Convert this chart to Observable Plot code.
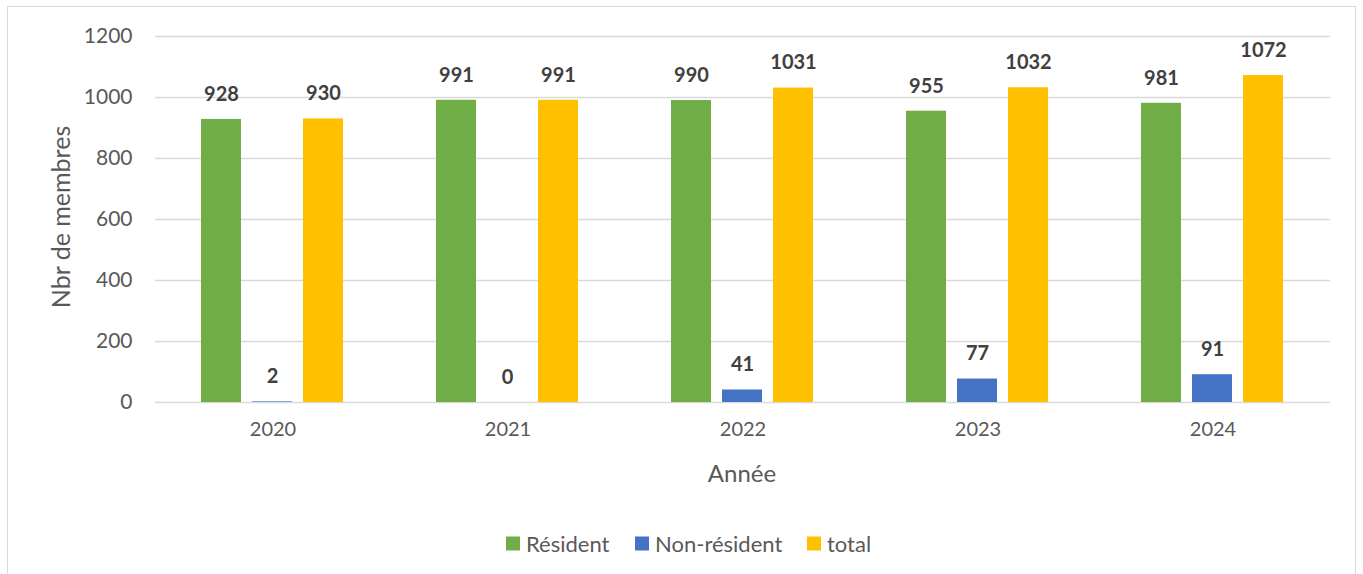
<!DOCTYPE html>
<html>
<head>
<meta charset="utf-8">
<script src="https://cdn.jsdelivr.net/npm/d3@7"></script>
<script src="https://cdn.jsdelivr.net/npm/@observablehq/plot@0.6"></script>
<style>
  html, body { margin: 0; padding: 0; background: #fff; width: 1363px; height: 574px; overflow: hidden; }
  #frame { position: absolute; left: 7px; top: 6px; width: 1349px; height: 620px; border: 1.5px solid #d9d9d9; box-sizing: border-box; }
  #chart { position: absolute; left: 0; top: 0; }
  .lbl { position: absolute; font-family: Lato, sans-serif; color: #595959; white-space: nowrap; }
  #ylab { left: 60px; top: 217px; font-size: 25px; transform: translate(-50%, -50%) rotate(-90deg); }
  #xlab { left: 742px; top: 472px; font-size: 24px; transform: translate(-50%, -50%); }
  .leg { position: absolute; top: 543px; transform: translateY(-50%); display: flex; align-items: center; font-family: Lato, sans-serif; font-size: 22px; color: #595959; }
  .leg span.sw { display: inline-block; width: 14px; height: 14px; margin-right: 6px; }
</style>
</head>
<body>
<div id="frame"></div>
<div id="chart"></div>
<div class="lbl" id="ylab">Nbr de membres</div>
<div class="lbl" id="xlab">Année</div>
<div id="legend"></div>
<script>
const years = ["2020", "2021", "2022", "2023", "2024"];
const series = ["Résident", "Non-résident", "total"];
const resident = [928, 991, 990, 955, 981];
const nonResident = [2, 0, 41, 77, 91];
const total = [930, 991, 1031, 1032, 1072];
const colors = ["#70AD47", "#4472C4", "#FFC000"];
const yTicks = [0, 200, 400, 600, 800, 1000, 1200];

const values = [resident, nonResident, total];
const table = [];
years.forEach((yr, i) => {
  series.forEach((s, j) => table.push({year: yr, series: s, value: values[j][i]}));
});

const chart = Plot.plot({
  width: 1363,
  height: 500,
  marginLeft: 154,
  marginRight: 33,
  marginTop: 36,
  marginBottom: 98,
  style: {fontFamily: "Lato, sans-serif", fontSize: "20px", color: "#595959", background: "transparent", overflow: "visible"},
  fx: {domain: years, paddingInner: 0, paddingOuter: 0, label: null, axis: "bottom", tickSize: 0, tickPadding: 19},
  x: {domain: series, axis: null, paddingInner: 0.2115, paddingOuter: 0.867},
  y: {domain: [0, 1200], axis: null},
  color: {domain: series, range: colors},
  marks: [
    Plot.gridY(yTicks, {stroke: "#d9d9d9", strokeOpacity: 1, strokeWidth: 1.5}),
    Plot.axisY(yTicks, {tickSize: 0, tickPadding: 23, label: null, fontSize: 21, tickFormat: d => String(d)}),
    Plot.barY(table, {fx: "year", x: "series", y: "value", fill: "series"}),
    Plot.text(table, {fx: "year", x: "series", y: "value", text: d => String(d.value), dy: -25, fontWeight: "bold", fill: "#404040", fontSize: 20})
  ]
});
document.getElementById("chart").appendChild(chart);

const legendPos = [506, 635, 807];
const legend = document.getElementById("legend");
series.forEach((s, j) => {
  const item = document.createElement("div");
  item.className = "leg";
  item.style.left = legendPos[j] + "px";
  item.innerHTML = `<span class="sw" style="background:${colors[j]}"></span><span>${s}</span>`;
  legend.appendChild(item);
});
</script>
</body>
</html>
